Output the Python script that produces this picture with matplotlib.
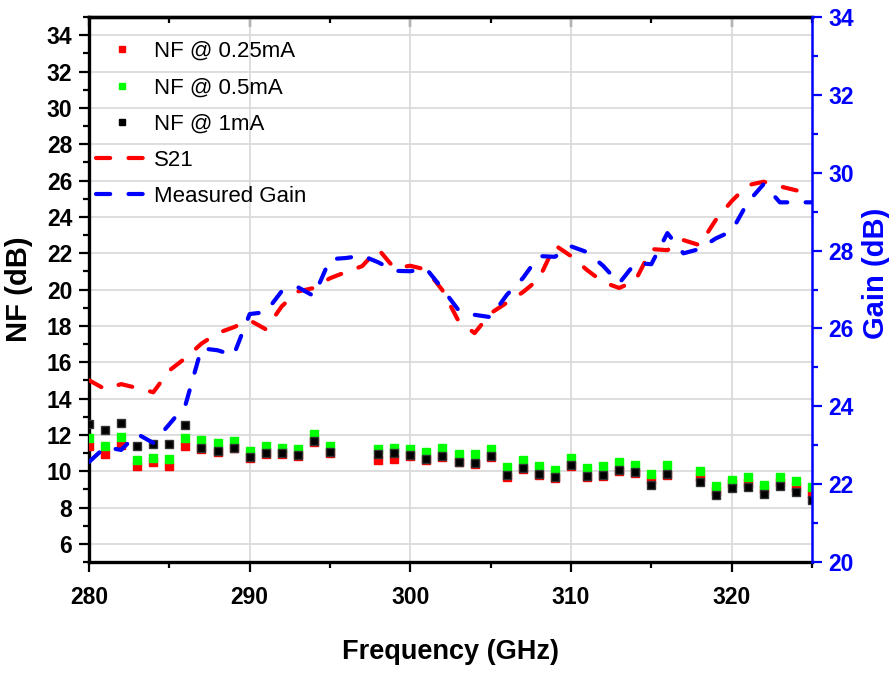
import numpy as np
import matplotlib
matplotlib.use("Agg")
import matplotlib.pyplot as plt
from matplotlib.ticker import MultipleLocator
from matplotlib.lines import Line2D

plt.rcParams['font.family'] = ['Liberation Sans', 'DejaVu Sans']

# ---- data ----
freq_nf = [280, 281, 282, 283, 284, 285, 286, 287, 288, 289, 290, 291, 292, 293, 294, 295,
           298, 299, 300, 301, 302, 303, 304, 305, 306, 307, 308, 309, 310, 311, 312, 313,
           314, 315, 316, 318, 319, 320, 321, 322, 323, 324, 325]
nf_025 = [11.40, 10.96, 11.46, 10.31, 10.53, 10.26, 11.40, 11.20, 11.05, 11.25, 10.75, 10.95,
          10.92, 10.82, 11.60, 11.00, 10.62, 10.67, 10.86, 10.62, 10.80, 10.48, 10.42, 10.77,
          9.70, 10.14, 9.80, 9.63, 10.30, 9.70, 9.74, 10.02, 9.88, 9.52, 9.80, 9.70, 8.93,
          9.37, 9.37, 9.02, 9.43, 9.15, 8.77]
nf_05 = [11.85, 11.36, 11.88, 10.59, 10.72, 10.66, 11.82, 11.70, 11.53, 11.66, 11.10, 11.38,
         11.29, 11.23, 12.03, 11.37, 11.20, 11.30, 11.23, 11.08, 11.28, 10.95, 10.93, 11.24,
         10.21, 10.60, 10.27, 10.08, 10.74, 10.15, 10.26, 10.48, 10.33, 9.82, 10.33, 10.02,
         9.17, 9.52, 9.67, 9.26, 9.69, 9.45, 9.12]
nf_1 = [12.60, 12.25, 12.65, 11.36, 11.50, 11.50, 12.56, 11.25, 11.12, 11.29, 10.80, 11.00,
        10.98, 10.87, 11.64, 11.07, 10.93, 10.99, 10.91, 10.67, 10.86, 10.53, 10.47, 10.82,
        9.77, 10.19, 9.86, 9.68, 10.34, 9.76, 9.80, 10.07, 9.93, 9.23, 9.85, 9.41, 8.71,
        9.06, 9.15, 8.75, 9.20, 8.86, 8.41]

freq_gain = list(range(280, 326))
s21 = [24.67, 24.44, 24.57, 24.47, 24.36, 24.92, 25.24, 25.61, 25.88, 26.03, 26.21, 25.98,
       26.57, 26.95, 27.04, 27.29, 27.45, 27.60, 28.04, 27.55, 27.61, 27.51, 26.98, 26.19,
       25.88, 26.39, 26.66, 26.93, 27.27, 28.14, 27.86, 27.50, 27.19, 27.04, 27.22, 28.04,
       28.01, 28.27, 28.14, 28.78, 29.27, 29.68, 29.77, 29.65, 29.55, 29.45]
meas_gain = [22.57, 22.95, 22.88, 23.29, 23.06, 23.54, 24.03, 25.49, 25.44, 25.31, 26.37, 26.42,
             26.96, 27.06, 26.83, 27.78, 27.81, 27.87, 27.70, 27.48, 27.47, 27.53, 27.02, 26.47,
             26.35, 26.29, 26.86, 27.29, 27.86, 27.84, 28.11, 27.96, 27.61, 27.16, 27.68, 27.65,
             28.45, 27.93, 28.04, 28.31, 28.50, 29.24, 29.71, 29.24, 29.24, 29.24]

BLUE = '#0000ff'

fig = plt.figure(figsize=(8.91, 6.73), dpi=100)
ax = fig.add_axes([0.0999, 0.1649, 0.8114, 0.8098])
ax2 = ax.twinx()

# NF markers
ms = 5.4
ax.plot(freq_nf, nf_025, 's', color='#ff0000', ms=ms, mec='#ff0000', zorder=3)
ax.plot(freq_nf, nf_05, 's', color='#00ff00', ms=ms, mec='#00ff00', zorder=4)
ax.plot(freq_nf, nf_1, 's', color='black', ms=ms, mec='#333333', zorder=5)

# gain lines
dash = (0, (3.4, 4.4))
ax2.plot(freq_gain, s21, color='#ff0000', lw=3, ls=dash, dash_capstyle='round')
ax2.plot(freq_gain, meas_gain, color=BLUE, lw=3, ls=dash, dash_capstyle='round')

ax.set_xlim(280, 325)
ax.set_ylim(5, 35)
ax2.set_ylim(20, 34)

ax.set_xticks(np.arange(280, 321, 10))
ax.xaxis.set_minor_locator(MultipleLocator(5))
ax.set_yticks(np.arange(6, 35, 2))
ax.yaxis.set_minor_locator(MultipleLocator(1))
ax2.set_yticks(np.arange(20, 35, 2))
ax2.yaxis.set_minor_locator(MultipleLocator(1))

ax.grid(True, which='major', color='#d8d8d8', lw=1.2)
ax.set_axisbelow(True)

tick_fs = 16.5
ax.tick_params(axis='both', which='major', direction='out', length=7, width=1.6,
               labelsize=tick_fs, pad=5)
ax.tick_params(axis='both', which='minor', direction='out', length=4, width=1.6)
ax.tick_params(axis='x', pad=10)
for lab in ax.get_xticklabels() + ax.get_yticklabels():
    lab.set_fontweight('bold')

ax2.tick_params(axis='y', which='major', direction='out', length=7, width=1.6,
                colors=BLUE, labelsize=tick_fs, pad=5)
ax2.tick_params(axis='y', which='minor', direction='out', length=4, width=1.6, colors=BLUE)
for lab in ax2.get_yticklabels():
    lab.set_fontweight('bold')

top = ax.secondary_xaxis('top')
top.set_xticks(np.arange(280, 321, 10))
top.xaxis.set_minor_locator(MultipleLocator(5))
top.tick_params(which='major', direction='in', length=7, width=1.6, labeltop=False)
top.tick_params(which='minor', direction='in', length=4, width=1.6)
top.spines['top'].set_linewidth(2.4)

for s in ['left', 'bottom', 'top']:
    ax.spines[s].set_linewidth(2.4)
ax2.spines['right'].set_color(BLUE)
ax2.spines['right'].set_linewidth(1.8)
for s in ['left', 'bottom', 'top']:
    ax2.spines[s].set_visible(False)

ax.set_xlabel('Frequency (GHz)', fontsize=19.5, fontweight='bold', labelpad=22)
ax.set_ylabel('NF (dB)', fontsize=21, fontweight='bold', labelpad=10)
ax2.set_ylabel('Gain (dB)', fontsize=21, fontweight='bold', color=BLUE, labelpad=8)
ax2.yaxis.set_label_coords(1.069, 0.53)

handles = [
    Line2D([], [], ls='none', marker='s', color='#ff0000', ms=4.8),
    Line2D([], [], ls='none', marker='s', color='#00ff00', ms=4.8),
    Line2D([], [], ls='none', marker='s', color='black', ms=4.8),
    Line2D([], [], color='#ff0000', lw=3, ls=dash, dash_capstyle='round'),
    Line2D([], [], color=BLUE, lw=3, ls=dash, dash_capstyle='round'),
]
labels = ['NF @ 0.25mA', 'NF @ 0.5mA', 'NF @ 1mA', 'S21', 'Measured Gain']
ax2.legend(handles, labels, loc='upper left', bbox_to_anchor=(-0.003, 0.972), frameon=False,
           fontsize=16, handlelength=2.4, handletextpad=0.23, labelspacing=0.68,
           borderaxespad=0.0)

fig.savefig('out.png', dpi=100)
